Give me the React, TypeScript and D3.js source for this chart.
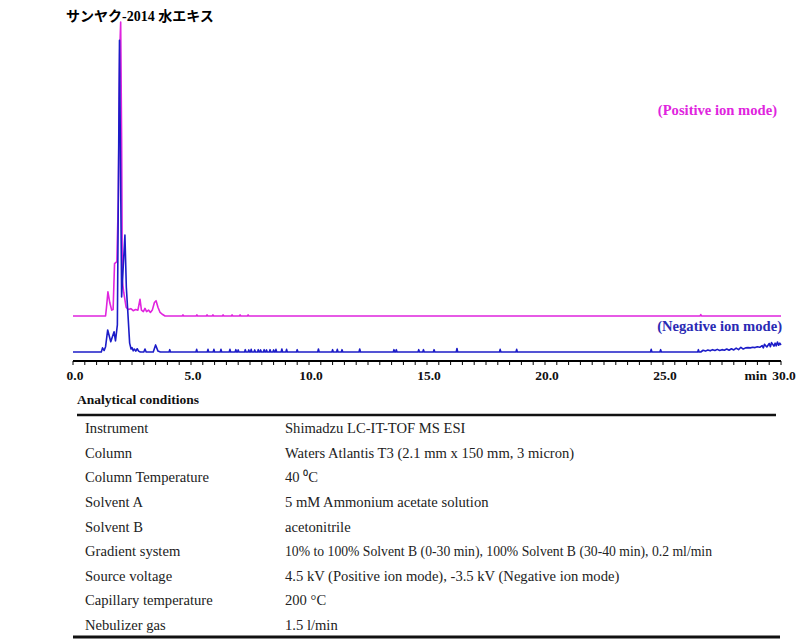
import * as d3 from 'd3'

// chromatogram traces, [time (min), relative intensity %]
const positiveTrace: [number, number][] = [
  [0, 0], [1.38, 0], [1.42, 3], [1.48, 8.2], [1.56, 4.5], [1.64, 2.0], [1.70, 2.2],
  [1.76, 17.8], [1.86, 18.5], [1.92, 40], [1.98, 90], [2.02, 100], [2.06, 60], [2.09, 12],
  [2.15, 8], [2.25, 3], [2.34, 2.2], [2.45, 2.5], [2.55, 1.8], [2.65, 2.2], [2.75, 2.0],
  [2.84, 5.7], [2.9, 2.0], [2.98, 1.5], [3.05, 2.6], [3.12, 1.5], [3.2, 2.0], [3.28, 1.2],
  [3.36, 2.0], [3.45, 4.6], [3.52, 5.2], [3.6, 3.0], [3.69, 1.2], [3.8, 0.5], [3.9, 0],
]
const positiveSpikes: [number, number][] = [
  [4.66, 0.4], [5.25, 0.4], [5.68, 0.4], [5.93, 0.4], [6.36, 0.4], [6.74, 0.4],
  [7.08, 0.4], [7.42, 0.4], [26.6, 0.5],
]

const negativeTrace: [number, number][] = [
  [0, 0], [1.2, 0], [1.25, 1.4], [1.32, 0.5], [1.38, 1.8], [1.47, 7.5], [1.6, 3.5],
  [1.74, 6.9], [1.8, 3.8], [1.88, 9.2], [1.97, 106], [2.06, 18.7], [2.2, 39.8],
  [2.26, 22], [2.32, 14], [2.4, 3], [2.46, 1.0], [2.5, 1.5], [2.55, 0.4], [2.6, 1.0],
  [2.66, 0.3], [2.72, 1.1], [2.78, 0.3], [2.85, 0], [3.0, 0], [3.05, 1.0], [3.1, 0],
  [3.4, 0], [3.5, 2.4], [3.6, 0.3], [3.7, 0],
]
const negativeSpikes: [number, number][] = [
  [4.1, 0.8], [5.24, 0.9], [5.72, 0.9], [5.97, 0.9], [6.27, 0.9], [6.65, 0.9], [6.9, 0.8],
  [7.0, 0.7], [7.3, 0.8], [7.45, 0.7], [7.55, 0.9], [7.7, 0.7], [7.85, 0.8], [7.95, 0.7],
  [8.1, 0.8], [8.2, 0.7], [8.35, 0.8], [8.5, 0.7], [8.6, 0.9], [8.85, 1.0], [9.05, 0.9],
  [9.5, 0.8], [10.4, 1.0], [11.0, 0.8], [11.2, 0.9], [11.4, 0.8], [12.15, 1.0], [13.6, 0.8],
  [13.7, 0.8], [14.65, 0.8], [14.85, 0.8], [15.3, 0.8], [16.27, 1.2], [18.1, 0.9],
  [18.8, 0.9], [24.5, 0.9], [24.9, 0.8], [26.5, 0.8],
]
const negativeTail: [number, number][] = [
  [26.6, 0], [26.7, 0.6], [26.8, 0.3], [26.9, 0.7], [27.0, 0.4], [27.1, 0.8], [27.2, 0.5],
  [27.3, 0.9], [27.4, 0.5], [27.5, 0.8], [27.6, 0.6], [27.7, 1.0], [27.8, 0.6], [27.9, 1.1],
  [28.0, 0.7], [28.1, 1.3], [28.2, 0.8], [28.3, 1.6], [28.4, 1.0], [28.5, 1.4], [28.6, 1.5],
  [28.7, 1.4], [28.8, 1.6], [28.9, 1.5], [29.0, 1.8], [29.1, 1.6], [29.2, 2.2], [29.25, 1.4],
  [29.3, 2.6], [29.4, 1.7], [29.5, 2.9], [29.55, 1.8], [29.6, 3.2], [29.7, 2.0], [29.75, 3.0],
  [29.8, 2.1], [29.85, 3.4], [29.9, 2.3], [29.95, 3.0], [30, 2.4],
]

const majorTicks = [0, 5, 10, 15, 20, 25, 30]
const tickLabels = ['0.0', '5.0', '10.0', '15.0', '20.0', '25.0', '30.0']

const conditionLabels = [
  'Instrument', 'Column', 'Column Temperature', 'Solvent A', 'Solvent B',
  'Gradient system', 'Source voltage', 'Capillary temperature', 'Nebulizer gas',
]
const conditionValues = [
  'Shimadzu LC-IT-TOF MS ESI',
  'Waters Atlantis T3 (2.1 mm x 150 mm, 3 micron)',
  '40 \u2070C',
  '5 mM Ammonium acetate solution',
  'acetonitrile',
  '10% to 100% Solvent B (0-30 min), 100% Solvent B (30-40 min), 0.2 ml/min',
  '4.5 kV (Positive ion mode), -3.5 kV (Negative ion mode)',
  '200 \u00b0C',
  '1.5 l/min',
]

const serif = "'Liberation Serif', 'Times New Roman', serif"
const PINK = '#e024de'
const BLUE = '#1c1cc8'

function withSpikes(base: [number, number][], spikes: [number, number][], tail: [number, number][] = []) {
  const pts: [number, number][] = [...base]
  spikes.forEach(([t, h]) => { pts.push([t - 0.03, 0], [t, h], [t + 0.03, 0]) })
  pts.push(...tail)
  pts.sort((a, b) => a[0] - b[0])
  if (pts[pts.length - 1][0] < 30) pts.push([30, 0])
  return pts
}

export default function App() {
  const width = 804
  const height = 641
  const x = d3.scaleLinear().domain([0, 30]).range([73, 781])
  const h = d3.scaleLinear().domain([0, 100]).range([0, 294])
  const posBase = 316
  const negBase = 352
  const axisY = 361

  const posLine = d3.line<[number, number]>().x(d => x(d[0])).y(d => posBase - h(d[1]))
  const negLine = d3.line<[number, number]>().x(d => x(d[0])).y(d => negBase - h(d[1]))

  const posData = withSpikes(positiveTrace, positiveSpikes)
  const negData = withSpikes(negativeTrace, negativeSpikes, negativeTail)
  const minorTicks = d3.range(0, 30.01, 0.5)

  const rowY = d3.scaleLinear().domain([0, conditionLabels.length - 1]).range([428, 625])

  return (
    <svg width={width} height={height} style={{ position: 'absolute', left: 0, top: 0, background: '#fff' }}>
      <text x={66} y={21} fontFamily={`${serif}, 'Noto Sans CJK JP'`} fontWeight="bold" fontSize={14} fill="#000">
        サンヤク-2014 水エキス
      </text>

      <path d={posLine(posData) ?? ''} fill="none" stroke={PINK} strokeWidth={1.6} strokeLinejoin="round" />
      <path d={negLine(negData) ?? ''} fill="none" stroke={BLUE} strokeWidth={1.6} strokeLinejoin="round" />

      <text x={777} y={115} textAnchor="end" fontFamily={serif} fontWeight="bold" fontSize={14.6} fill={PINK}>
        (Positive ion mode)
      </text>
      <text x={782} y={331} textAnchor="end" fontFamily={serif} fontWeight="bold" fontSize={14.6} fill="#2a2ab4">
        (Negative ion mode)
      </text>

      <line x1={x(0)} x2={x(30)} y1={axisY} y2={axisY} stroke="#000" strokeWidth={2} />
      {minorTicks.map(t => (
        <line key={t} x1={x(t)} x2={x(t)} y1={axisY} y2={axisY + 4} stroke="#000" strokeWidth={1} />
      ))}
      {majorTicks.map((t, i) => (
        <text key={t} x={x(t) + (t === 30 ? 3 : 2)} y={380} textAnchor="middle" fontFamily={serif} fontWeight="bold" fontSize={13.5} fill="#111">
          {tickLabels[i]}
        </text>
      ))}
      <text x={767} y={380} textAnchor="end" fontFamily={serif} fontWeight="bold" fontSize={13.5} fill="#111">min</text>

      <text x={77} y={404} fontFamily={serif} fontWeight="bold" fontSize={13.5} fill="#111">Analytical conditions</text>
      <line x1={77} x2={776} y1={415} y2={415} stroke="#111" strokeWidth={2.5} />
      {conditionLabels.map((label, i) => (
        <g key={label}>
          <text x={85} y={rowY(i) + 5} fontFamily={serif} fontSize={14.6} fill="#222">{label}</text>
          <text x={285} y={rowY(i) + 5} fontFamily={serif} fontSize={14.6} fill="#222"
            textLength={i === 5 ? 427 : undefined} lengthAdjust="spacingAndGlyphs">
            {conditionValues[i]}
          </text>
        </g>
      ))}
      <line x1={73} x2={780} y1={637} y2={637} stroke="#111" strokeWidth={3} />
    </svg>
  )
}
